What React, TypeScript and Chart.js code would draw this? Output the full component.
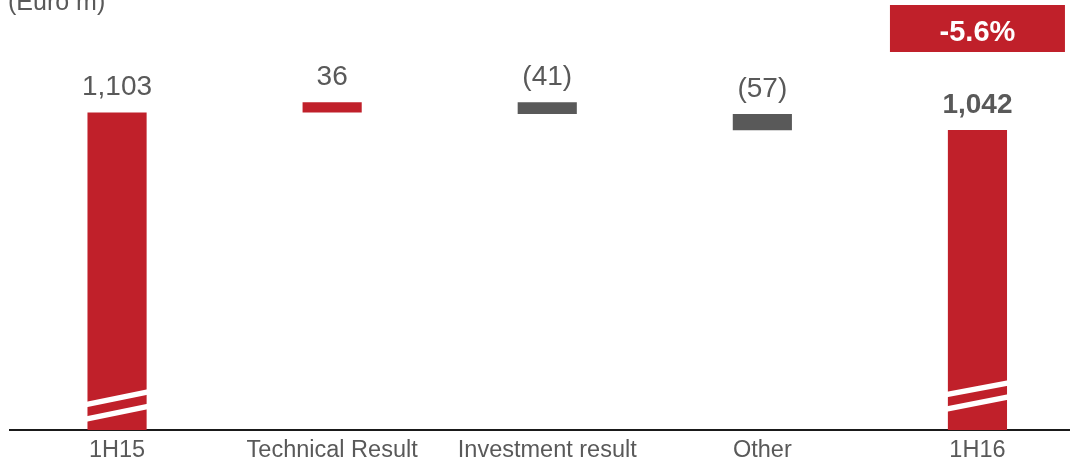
import React, { useEffect, useRef } from "react";
import { Chart, registerables } from "chart.js";

Chart.register(...registerables);

const categories = ["1H15", "Technical Result", "Investment result", "Other", "1H16"];
const openingTotal = 1103;
const deltas = [36, -41, -57];
const closingTotal = 1042;
const valueLabels = ["1,103", "36", "(41)", "(57)", "1,042"];
const changeLabel = "-5.6%";
const unitLabel = "(Euro m)";

const RED = "#C0202A";
const GRAY = "#595959";
const TEXT = "#595959";
const FONT = "'Liberation Sans', Arial, sans-serif";

function buildRanges(): [number, number][] {
  const ranges: [number, number][] = [[0, openingTotal]];
  let running = openingTotal;
  deltas.forEach((d) => {
    const next = running + d;
    ranges.push([Math.min(running, next), Math.max(running, next)]);
    running = next;
  });
  ranges.push([0, closingTotal]);
  return ranges;
}

const barColors = [RED, ...deltas.map((d) => (d >= 0 ? RED : GRAY)), RED];

const overlayPlugin = {
  id: "overlay",
  afterDatasetsDraw(chart: any) {
    const ctx = chart.ctx as CanvasRenderingContext2D;
    const meta = chart.getDatasetMeta(0);
    const n = meta.data.length;
    // break marks on the total bars
    const breaks: { [k: number]: number[][] } = {
      0: [[404.5, 392], [419, 406.5]],
      [n - 1]: [[394.5, 383], [409, 397]],
    };
    ctx.save();
    Object.keys(breaks).forEach((k) => {
      const i = Number(k);
      const el = meta.data[i];
      const left = el.x - el.width / 2 - 1;
      const right = el.x + el.width / 2 + 1;
      const base = chart.scales.y.getPixelForValue(0);
      const t = 5.5;
      breaks[i].forEach(([cl, cr]) => {
        const dl = cl - 430 + base;
        const dr = cr - 430 + base;
        ctx.beginPath();
        ctx.moveTo(left, dl - t / 2);
        ctx.lineTo(right, dr - t / 2);
        ctx.lineTo(right, dr + t / 2);
        ctx.lineTo(left, dl + t / 2);
        ctx.closePath();
        ctx.fillStyle = "#ffffff";
        ctx.fill();
      });
    });
    // value labels
    ctx.textAlign = "center";
    ctx.textBaseline = "alphabetic";
    meta.data.forEach((el: any, i: number) => {
      const top = Math.min(el.y, el.base);
      ctx.font = `${i === n - 1 ? "bold " : ""}28px ${FONT}`;
      ctx.fillStyle = TEXT;
      ctx.fillText(valueLabels[i], el.x, top - 17);
    });
    // change badge above last bar
    const last = meta.data[n - 1];
    ctx.fillStyle = RED;
    ctx.fillRect(last.x - 87.5, 5, 175, 47);
    ctx.fillStyle = "#ffffff";
    ctx.font = `bold 29px ${FONT}`;
    ctx.fillText(changeLabel, last.x, 41);
    // unit label
    ctx.textAlign = "left";
    ctx.fillStyle = TEXT;
    ctx.font = `25px ${FONT}`;
    ctx.fillText(unitLabel, 8, 10);
    ctx.restore();
  },
};

export default function App() {
  const canvasRef = useRef<HTMLCanvasElement | null>(null);

  useEffect(() => {
    if (!canvasRef.current) return;
    const chart = new Chart(canvasRef.current, {
      type: "bar",
      data: {
        labels: categories,
        datasets: [
          {
            data: buildRanges() as any,
            backgroundColor: barColors,
            borderWidth: 0,
            barPercentage: 0.275,
            categoryPercentage: 1,
          },
        ],
      },
      options: {
        animation: false,
        responsive: true,
        maintainAspectRatio: false,
        layout: { padding: { left: 9.5, right: 0, top: 27, bottom: 0.8 } },
        plugins: {
          legend: { display: false },
          tooltip: { enabled: false },
          title: { display: false },
        },
        scales: {
          x: {
            grid: { display: false, drawTicks: false },
            border: { display: true, color: "#1a1a1a", width: 2 },
            ticks: {
              color: TEXT,
              font: { size: 23.5, family: FONT },
              padding: 6.5,
              maxRotation: 0,
              autoSkip: false,
            },
          },
          y: {
            display: false,
            min: 0,
            max: 1400,
          },
        },
      },
      plugins: [overlayPlugin],
    });
    return () => chart.destroy();
  }, []);

  return (
    <div
      style={{
        position: "absolute",
        left: 0,
        top: 0,
        width: 1070,
        height: 462,
        overflow: "hidden",
        background: "#ffffff",
      }}
    >
      <div style={{ position: "relative", width: 1085, height: 472 }}>
        <canvas ref={canvasRef} />
      </div>
    </div>
  );
}
